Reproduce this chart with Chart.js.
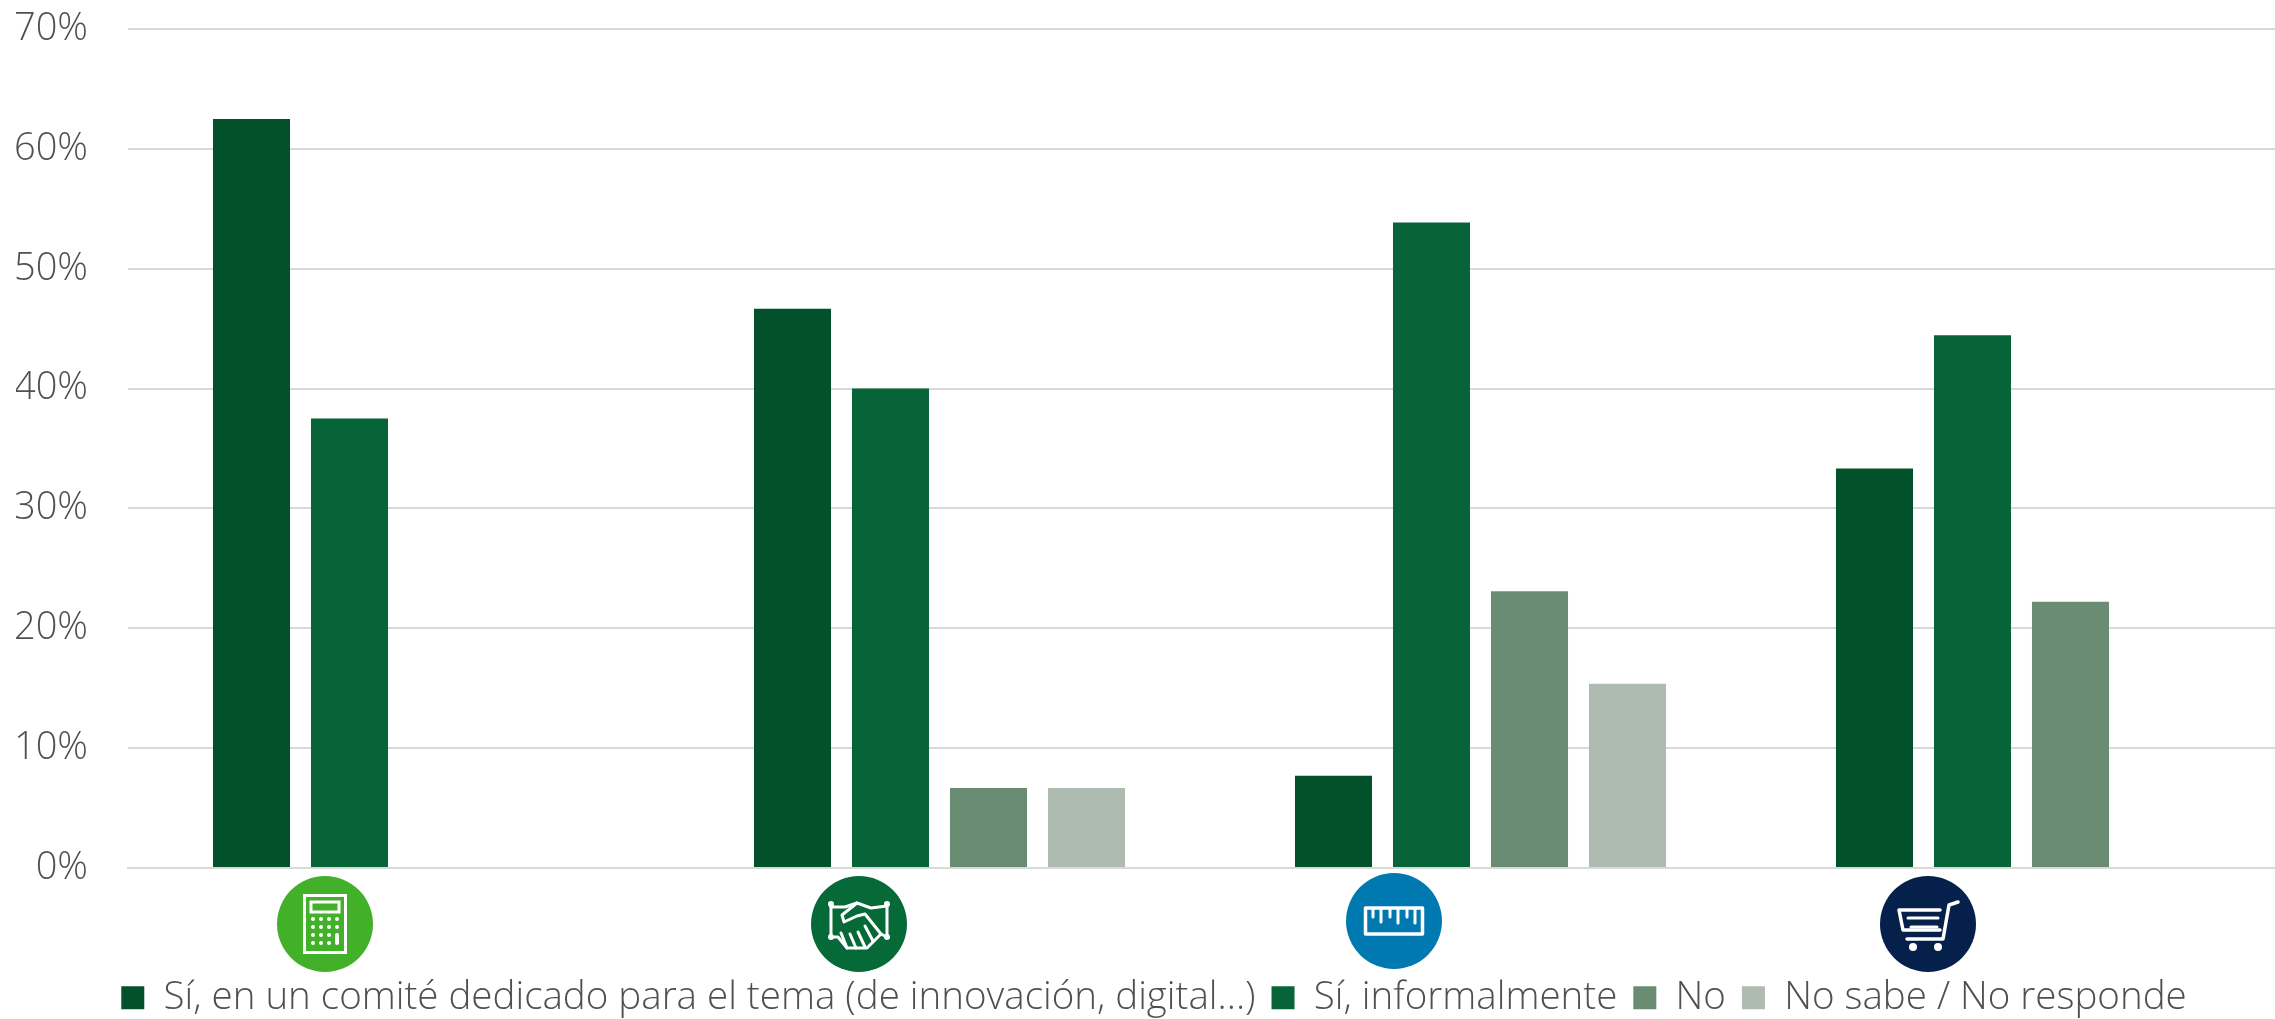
<!DOCTYPE html>
<html lang="es">
<head>
<meta charset="utf-8">
<title>Chart</title>
<script src="https://cdn.jsdelivr.net/npm/chart.js@4"></script>
<style>
  html, body { margin: 0; padding: 0; background: #fff; overflow: hidden; width: 2275px; height: 1019px; }
  #chart { position: absolute; left: 16px; top: 0; }
  .icon { position: absolute; width: 96px; height: 96px; }
</style>
</head>
<body>
<canvas id="chart" width="2276" height="1019"></canvas>

<!-- category icons -->
<svg class="icon" style="left:277px;top:876px" viewBox="-48 -48 96 96">
  <circle r="48" fill="#43b02a"/>
  <g fill="none" stroke="#fff" stroke-width="3">
    <rect x="-20.5" y="-28.5" width="41" height="57"/>
    <rect x="-14" y="-22" width="28" height="10"/>
  </g>
  <g fill="#fff">
    <circle cx="-12" cy="-5" r="2"/><circle cx="-4" cy="-5" r="2"/><circle cx="4" cy="-5" r="2"/><circle cx="12" cy="-5" r="2"/>
    <circle cx="-12" cy="3" r="2"/><circle cx="-4" cy="3" r="2"/><circle cx="4" cy="3" r="2"/><circle cx="12" cy="3" r="2"/>
    <circle cx="-12" cy="11" r="2"/><circle cx="-4" cy="11" r="2"/><circle cx="4" cy="11" r="2"/>
    <circle cx="-12" cy="19" r="2"/><circle cx="-4" cy="19" r="2"/><circle cx="4" cy="19" r="2"/>
    <rect x="10" y="9" width="4" height="12" rx="2"/>
  </g>
</svg>

<svg class="icon" style="left:811px;top:876px" viewBox="-48 -48 96 96">
  <circle r="48" fill="#066938"/>
  <g fill="none" stroke="#fff" stroke-width="3" stroke-linecap="round" stroke-linejoin="round">
    <path d="M-28 -20V13M28 -20V13"/>
    <path d="M-28 -17H-14L-2 -21L12 -16L28 -18"/>
    <path d="M-28 13L-21 13L-12 24L8 24L22 10L28 13"/>
    <path d="M-2 -21L-17 -9L-15 -2L-2 -8L6 -10L22 10"/>
    <path d="M-12 24L-18 9M-3 24L-9 10M6 23L-1 8M14 17L6 2"/>
  </g>
  <g fill="#fff">
    <circle cx="-28" cy="-20" r="3"/><circle cx="28" cy="-20" r="3"/>
    <circle cx="-28" cy="13" r="3"/><circle cx="28" cy="13" r="3"/>
  </g>
</svg>

<svg class="icon" style="left:1346px;top:873px" viewBox="-48 -48 96 96">
  <circle r="48" fill="#0079b1"/>
  <rect x="-28.5" y="-13" width="57" height="26" fill="none" stroke="#fff" stroke-width="3.5" stroke-linejoin="round"/>
  <g stroke="#fff" stroke-width="3" stroke-linecap="round">
    <path d="M-21 -12V-4M-13 -12V1M-4 -12V-4M4 -12V2M13 -12V-4M21 -12V2"/>
  </g>
</svg>

<svg class="icon" style="left:1880px;top:876px" viewBox="-48 -48 96 96">
  <circle r="48" fill="#05204a"/>
  <g fill="none" stroke="#fff" stroke-width="3.5" stroke-linecap="round" stroke-linejoin="round">
    <path d="M30 -22L21 -19L15 15H-21"/>
    <path d="M12 -14H-29L-25 6H12"/>
    <path d="M-20 -6H10M-17 3H9" stroke-width="3"/>
  </g>
  <circle cx="-15" cy="23" r="4" fill="#fff"/>
  <circle cx="10" cy="23" r="4" fill="#fff"/>
</svg>

<script>
// -----------------------------------------------------------------------------
// DATA
// -----------------------------------------------------------------------------
const categories = ['Finanzas', 'Comercial', 'Producción', 'Compras'];
const seriesNames = [
  'Sí, en un comité dedicado para el tema (de innovación, digital...)',
  'Sí, informalmente',
  'No',
  'No sabe / No responde'
];
const comite = [62.5, 46.67, 7.69, 33.33];
const informal = [37.5, 40, 53.85, 44.44];
const no = [0, 6.67, 23.08, 22.22];
const noSabe = [0, 6.67, 15.38, 0];
const seriesColors = ['#03512a', '#066438', '#6a8c73', '#aebbb0'];
const yTicks = [0, 10, 20, 30, 40, 50, 60, 70];

// -----------------------------------------------------------------------------
// CHART
// -----------------------------------------------------------------------------
const textColor = '#505050';
const gridColor = '#d9d9d9';
const fontFamily = '"Open Sans", sans-serif';

new Chart(document.getElementById('chart'), {
  type: 'bar',
  data: {
    labels: categories,
    datasets: [comite, informal, no, noSabe].map((values, i) => ({
      label: seriesNames[i],
      data: values,
      backgroundColor: seriesColors[i],
      borderWidth: 0,
      categoryPercentage: 0.7246,
      barPercentage: 0.786
    }))
  },
  options: {
    responsive: false,
    animation: false,
    layout: { autoPadding: false, padding: { top: 29, left: 0, right: 0, bottom: -8 } },
    plugins: {
      tooltip: { enabled: false },
      legend: {
        position: 'bottom',
        align: 'center',
        onClick: null,
        labels: {
          color: textColor,
          font: { family: fontFamily, size: 38.5, weight: '300' },
          boxWidth: 23,
          boxHeight: 23,
          padding: 16
        }
      }
    },
    scales: {
      x: {
        grid: { display: false, drawTicks: false },
        border: { color: gridColor, width: 2 },
        ticks: { display: false },
        afterFit: scale => { scale.height = 94.5; }
      },
      y: {
        min: 0,
        max: 70,
        afterBuildTicks: scale => { scale.ticks = yTicks.map(value => ({ value })); },
        afterFit: scale => {
          scale.width = 112;
          // plot top is fixed by the layout, not by half a tick label
          scale.paddingTop = 0;
          scale.paddingBottom = 0;
        },
        grid: { color: gridColor, lineWidth: 2, drawTicks: false },
        border: { display: false },
        ticks: {
          color: textColor,
          font: { family: fontFamily, size: 38, weight: '300' },
          padding: 40,
          callback: v => v + '%'
        }
      }
    }
  }
});
</script>
</body>
</html>
